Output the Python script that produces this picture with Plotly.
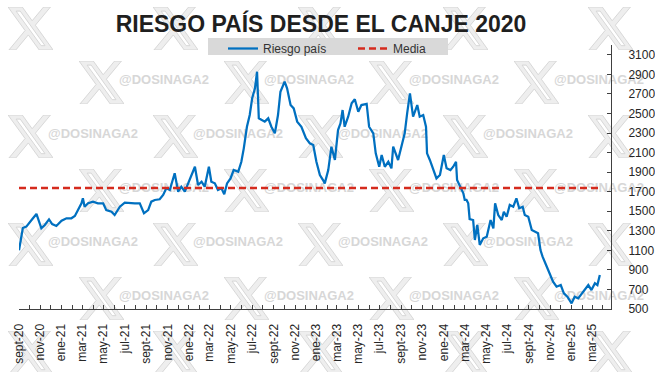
import base64
import pandas as pd
import plotly.graph_objects as go

# ---------------- data ----------------
start_date = "2020-09-07"
day_offsets = [
    0, 7, 11, 21, 31, 40, 50, 56, 64, 74,
    86, 95, 107, 122, 136, 150, 160, 169, 179, 183,
    188, 198, 212, 226, 241, 250, 265, 274, 289, 303,
    317, 332, 346, 358, 370, 379, 389, 403, 413, 422,
    432, 441, 446, 456, 465, 475, 484, 494, 504, 513,
    523, 532, 544, 551, 561, 570, 580, 588, 596, 606,
    615, 628, 637, 644, 653, 661, 668, 676, 682, 687,
    695, 704, 714, 723, 733, 742, 749, 761, 768, 778,
    787, 797, 809, 822, 833, 843, 852, 862, 871, 876,
    886, 895, 905, 914, 921, 927, 933, 943, 953, 962,
    972, 981, 996, 1003, 1015, 1022, 1032, 1039, 1048, 1058,
    1067, 1072, 1086, 1096, 1105, 1112, 1120, 1129, 1141, 1148,
    1158, 1166, 1169, 1177, 1187, 1196, 1206, 1217, 1225, 1236,
    1244, 1252, 1255, 1263, 1268, 1273, 1277, 1282, 1287, 1291,
    1301, 1306, 1313, 1320, 1330, 1340, 1351, 1359, 1364, 1373,
    1383, 1389, 1397, 1406, 1416, 1425, 1433, 1443, 1449, 1459,
    1469, 1478, 1487, 1494, 1500, 1510, 1516, 1523, 1530, 1540,
    1552, 1561, 1571, 1583, 1592, 1602, 1612, 1621, 1631, 1640,
    1650, 1657, 1664,
]
riesgo_pais = [
    1100, 1226, 1328, 1342, 1393, 1428, 1472, 1410, 1325, 1359,
    1417, 1369, 1349, 1403, 1428, 1428, 1451, 1512, 1581, 1632,
    1546, 1581, 1598, 1581, 1581, 1512, 1495, 1461, 1546, 1587,
    1581, 1581, 1581, 1479, 1512, 1598, 1615, 1622, 1666, 1734,
    1717, 1830, 1888, 1700, 1751, 1700, 1785, 1870, 1955, 1768,
    1802, 1751, 1955, 1802, 1785, 1717, 1734, 1673, 1785, 1836,
    1921, 1904, 2006, 2143, 2364, 2484, 2655, 2757, 2927, 2450,
    2433, 2416, 2450, 2364, 2297, 2484, 2722, 2825, 2757, 2586,
    2552, 2416, 2364, 2246, 2195, 2177, 2006, 1870, 1819, 1785,
    1921, 2160, 2024, 2330, 2399, 2535, 2364, 2467, 2604, 2645,
    2518, 2586, 2597, 2364, 2297, 2092, 1955, 2075, 1955, 2006,
    1939, 2160, 2024, 2160, 2297, 2501, 2706, 2467, 2586, 2467,
    2484, 2364, 2092, 2024, 1921, 1836, 1870, 2075, 1939, 1921,
    1955, 2006, 1819, 1751, 1717, 1683, 1615, 1615, 1581, 1420,
    1410, 1206, 1359, 1155, 1223, 1240, 1410, 1325, 1581, 1461,
    1410, 1495, 1444, 1564, 1546, 1632, 1530, 1546, 1461, 1444,
    1308, 1290, 1274, 1103, 1035, 950, 899, 830, 779, 728,
    745, 660, 626, 558, 626, 609, 660, 694, 745, 694,
    763, 745, 848,
]
media_value = 1737
tick_labels = [
    "sept-20", "nov-20", "ene-21", "mar-21", "may-21", "jul-21", "sept-21",
    "nov-21", "ene-22", "mar-22", "may-22", "jul-22", "sept-22", "nov-22",
    "ene-23", "mar-23", "may-23", "jul-23", "sept-23", "nov-23", "ene-24",
    "mar-24", "may-24", "jul-24", "sept-24", "nov-24", "ene-25", "mar-25",
]
y_tick_values = list(range(500, 3101, 200))
x_axis_end = "2025-04-30"
title_text = "RIESGO PAÍS DESDE EL CANJE 2020"
watermark_text = "@DOSINAGA2"

# ---------------- build ----------------
t0 = pd.Timestamp(start_date)
dates = t0 + pd.to_timedelta(day_offsets, unit="D")
tick_dates = [t0 + pd.DateOffset(months=2 * i) for i in range(len(tick_labels))]

W, H = 655, 372
PL, PR, PT, PB = 19, 611, 45, 309  # plot area in pixels
pw, ph = PR - PL, PB - PT


def px_x(p):
    return (p - PL) / pw


def px_y(p):
    return (PB - p) / ph


fig = go.Figure()

# watermark (helper pixel axes x/y, drawn below the data on x2/y2)
wm_x, wm_y = [], []
images = []
svg = ('<svg xmlns="http://www.w3.org/2000/svg" viewBox="1.25 2.25 21.5 19.5" '
       'preserveAspectRatio="none"><path d="M18.244 2.25h3.308l-7.227 8.26 8.502 '
       '11.24H16.17l-5.214-6.817L4.99 21.75H1.68l7.73-8.835L1.254 2.25H8.08l4.713 '
       '6.231zm-1.161 17.52h1.833L7.084 4.126H5.117z" fill="#eeeeee" stroke="#d3d3d3" '
       'stroke-width="0.4"/></svg>')
src = "data:image/svg+xml;base64," + base64.b64encode(svg.encode()).decode()
for i in range(7):
    cy = 27 + 54 * i
    base = 48 if i % 2 == 0 else -26
    for k in range(-1, 6):
        tx = base + 145 * k
        if tx > W + 10 or tx + 95 < -5:
            continue
        wm_x.append(tx)
        wm_y.append(cy)
        images.append(dict(
            source=src, xref="paper", yref="paper",
            x=px_x(tx - 40), y=px_y(cy - 20),
            sizex=45 / pw, sizey=43 / ph, sizing="stretch",
            xanchor="left", yanchor="top", layer="below",
        ))

fig.add_trace(go.Scatter(
    x=wm_x, y=wm_y, mode="text", text=[watermark_text] * len(wm_x),
    textposition="middle right", cliponaxis=False, showlegend=False,
    hoverinfo="skip",
    textfont=dict(family="Liberation Sans, Arial, sans-serif", size=13,
                  color="#d7d7d7", weight="bold"),
    xaxis="x", yaxis="y",
))

fig.add_trace(go.Scatter(
    x=dates, y=riesgo_pais, mode="lines", name="Riesgo país",
    line=dict(color="#0070C0", width=2.25),
    xaxis="x2", yaxis="y2",
))
fig.add_trace(go.Scatter(
    x=[dates[0], dates[-1]], y=[media_value, media_value], mode="lines",
    name="Media", line=dict(color="#D52B1E", width=2.5, dash="7px,4px"),
    xaxis="x2", yaxis="y2",
))

axis_col = "#404040"
lab_font = dict(family="Liberation Sans, Arial, sans-serif", size=12, color="#262626")

fig.update_layout(
    width=W, height=H,
    margin=dict(l=PL, r=W - PR, t=PT, b=H - PB, pad=0, autoexpand=False),
    paper_bgcolor="white", plot_bgcolor="rgba(0,0,0,0)",
    images=images,
    shapes=[dict(type="rect", xref="paper", yref="paper",
                 x0=px_x(208), x1=px_x(448), y0=px_y(55), y1=px_y(38),
                 fillcolor="#d9d9d9", line=dict(width=0), layer="below")],
    title=dict(text=title_text, x=321 / W, xanchor="center", xref="container",
               y=1 - 24 / H, yanchor="middle", yref="container",
               font=dict(family="Liberation Sans, Arial, sans-serif", size=23,
                         color="#1f1f1f", weight="bold")),
    showlegend=True,
    legend=dict(orientation="h", x=px_x(223), xanchor="left",
                y=px_y(34), yanchor="top", bgcolor="rgba(0,0,0,0)",
                font=dict(family="Liberation Sans, Arial, sans-serif", size=12,
                          color="#333333"),
                itemwidth=30, entrywidth=85, tracegroupgap=0),
    xaxis=dict(range=[PL, PR], visible=False, fixedrange=True),
    yaxis=dict(range=[PB, PT], visible=False, fixedrange=True),
    xaxis2=dict(
        overlaying="x", anchor="y2", side="bottom", type="date",
        range=[t0, pd.Timestamp(x_axis_end)],
        tickmode="array", tickvals=tick_dates, ticktext=tick_labels,
        tickangle=-90, ticks="inside", ticklen=4, tickcolor=axis_col,
        showline=True, linecolor=axis_col, linewidth=1, showgrid=False,
        zeroline=False, tickfont=lab_font, ticklabelstandoff=9,
        minor=dict(tick0=t0, dtick="M1", ticks="inside", ticklen=4,
                   tickcolor=axis_col, showgrid=False),
    ),
    yaxis2=dict(
        overlaying="y", anchor="x2", side="right",
        range=[500, 3200], tickmode="array", tickvals=y_tick_values,
        ticks="inside", ticklen=4, tickcolor=axis_col,
        showline=True, linecolor=axis_col, linewidth=1, showgrid=False,
        zeroline=False, tickfont=lab_font, ticklabelstandoff=14,
    ),
)

fig.write_html(
    "out.html",
    config={"displayModeBar": False},
    post_script="document.body.style.margin='0';document.body.style.padding='0';",
)
